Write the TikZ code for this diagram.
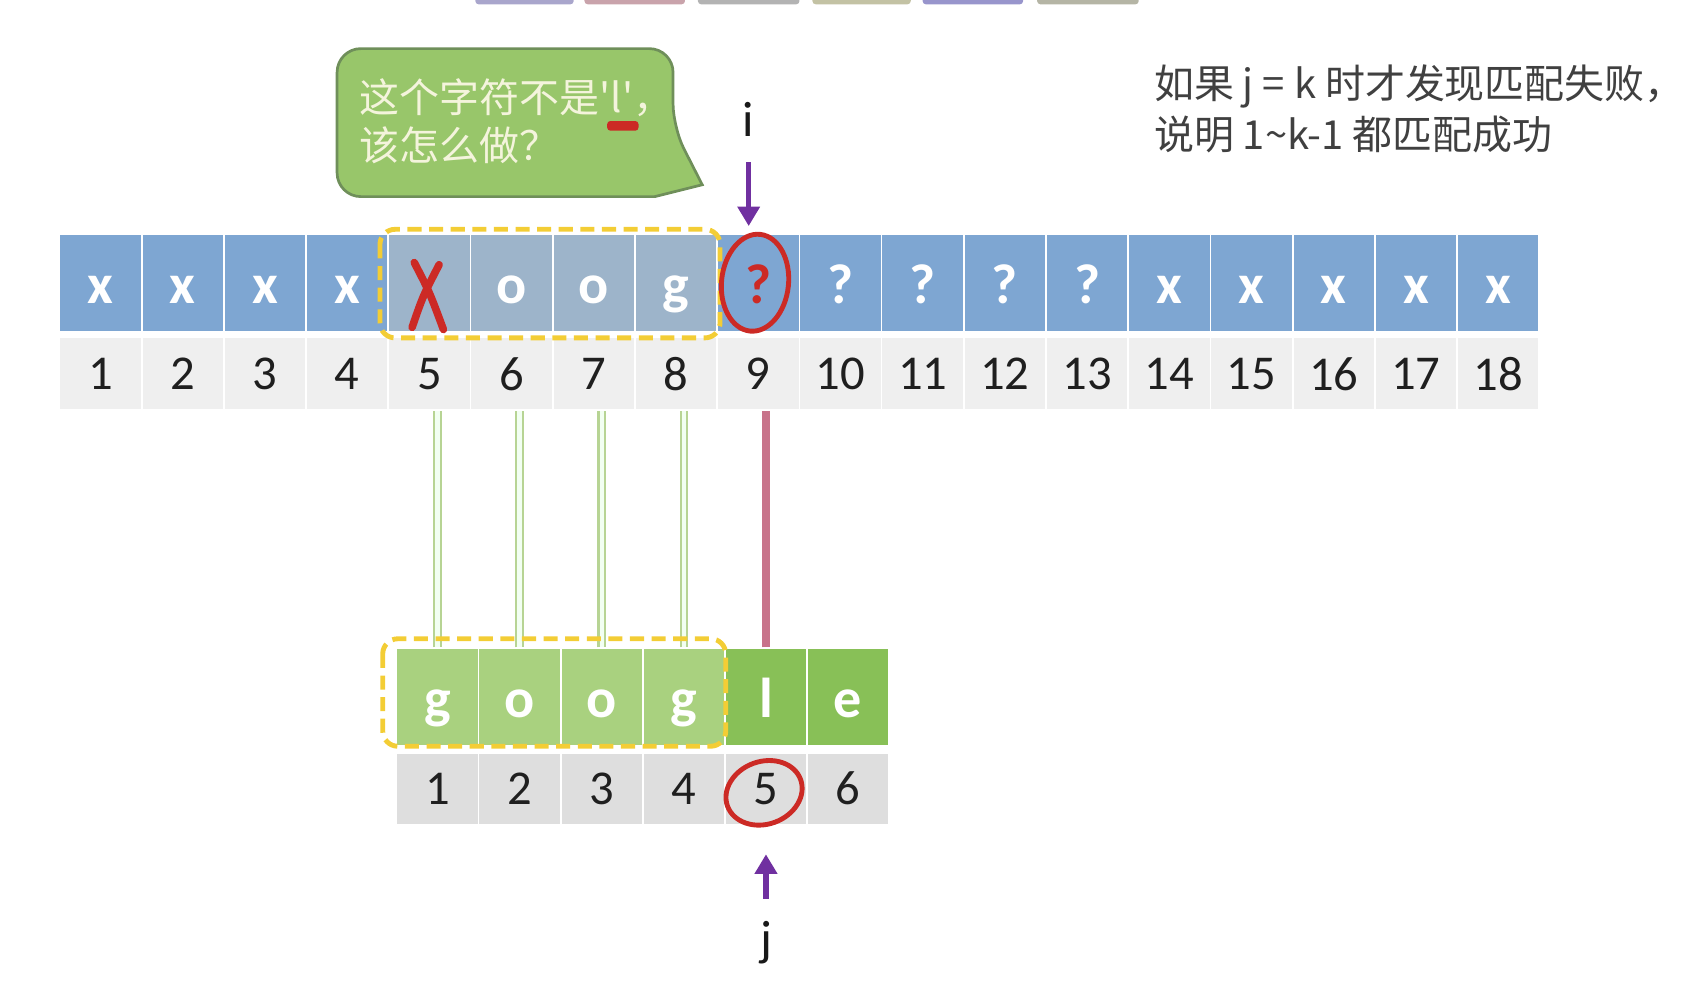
\documentclass[tikz,border=0pt]{standalone}
\usepackage{fontspec}
\setmainfont{Carlito}
\newfontfamily\cjk{Noto Sans CJK SC}
\usetikzlibrary{positioning, arrows.meta}

\definecolor{cellblue}{HTML}{7EA6D2}
\definecolor{cellgrey}{HTML}{9DB4CA}
\definecolor{idxtop}{HTML}{EFEFEF}
\definecolor{idxbot}{HTML}{DEDEDE}
\definecolor{patlight}{HTML}{A9D17F}
\definecolor{patdark}{HTML}{88C057}
\definecolor{dashyellow}{HTML}{F3CD35}
\definecolor{ptrpurple}{HTML}{7030A0}
\definecolor{markred}{HTML}{CC2A25}
\definecolor{failpink}{HTML}{C8738A}
\definecolor{okgreen}{HTML}{B7D494}
\definecolor{bubblefill}{HTML}{98C66A}
\definecolor{bubbleline}{HTML}{6F8F5A}
\definecolor{bubbletext}{HTML}{F4F4DC}
\definecolor{notegrey}{HTML}{404040}

\tikzset{
  cell/.style={draw=white, line width=1.5pt, minimum width=76pt, minimum height=90pt,
    inner sep=0pt, text height=38pt, text depth=0pt, text=white,
    font=\fontsize{52}{60}\selectfont\bfseries},
  idx/.style={draw=white, line width=1.5pt, minimum width=76pt, minimum height=67pt,
    inner sep=0pt, text=black!88, font=\fontsize{45}{54}\selectfont},
  hilite/.style={draw=dashyellow, line width=4.5pt, dash pattern=on 13pt off 7pt, rounded corners=14pt},
  okline/.style={draw=okgreen, line width=2pt, double=green!5!white, double distance=4pt},
  failline/.style={draw=failpink, line width=8pt},
  ptr/.style={->, draw=ptrpurple, line width=5pt},
  ring/.style={draw=markred, line width=4.5pt},
  scrawl/.style={draw=markred, line width=7pt, line cap=round},
  lbl/.style={inner sep=0pt, text=black!90, font=\fontsize{46}{54}\selectfont},
  bubble/.style={fill=bubblefill, draw=bubbleline, line width=2.5pt}
}

\begin{document}
\begin{tikzpicture}[x=1pt, y=-1pt, >={Triangle[length=18pt,width=20pt]}]
  \useasboundingbox (0,0) rectangle (1568,913);

  % bars cut off at the top edge
  \foreach \l/\r/\c in {440/531/A9A6CC, 541/634/C9A3AB, 646/740/B3B3B3,
                        752/843/C3C2A4, 854/947/9895CC, 960/1054/B5B5A5}
    {\definecolor{barcol}{HTML}{\c}
     \fill[barcol, rounded corners=3pt] (\l,-10) rectangle (\r,4);}

  % main string
  \foreach \c/\f [count=\k] in {x/cellblue, x/cellblue, x/cellblue, x/cellblue, {}/cellgrey,
      o/cellgrey, o/cellgrey, g/cellgrey, {\textcolor{markred}{?}}/cellblue,
      ?/cellblue, ?/cellblue, ?/cellblue, ?/cellblue,
      x/cellblue, x/cellblue, x/cellblue, x/cellblue, x/cellblue}
    \node[cell, fill=\f] (t\k) at ({93.05+76.1*(\k-1)}, 262) {\c};
  \foreach \k in {1,...,18}
    \node[idx, fill=idxtop] (n\k) at ({93.05+76.1*(\k-1)}, 346) {\k};

  % pattern
  \foreach \c/\f [count=\k] in {g/patlight, o/patlight, o/patlight, g/patlight, l/patdark, e/patdark}
    \node[cell, fill=\f] (p\k) at ({405+76*(\k-1)}, 645) {\c};
  \foreach \k in {1,...,6}
    \node[idx, fill=idxbot, minimum height=66pt] (q\k) at ({405+76*(\k-1)}, 730) {\k};

  % matched / failed links
  \foreach \k in {1,...,4}
    \draw[okline] (p\k.north) -- (p\k.north |- n1.south);
  \draw[failline] (p5.north) -- (p5.north |- n9.south);

  \draw[hilite] ([xshift=-7pt, yshift=4pt]t5.north west) rectangle ([xshift=2pt, yshift=-5pt]t8.south east);
  \draw[hilite] ([xshift=-12pt, yshift=8pt]p1.north west) rectangle (p4.south east);

  % pointers
  \node[lbl, anchor=south] (ilbl) at (693,127) {i};
  \draw[ptr, shorten <=23pt, shorten >=7pt] (ilbl.south) -- (ilbl.south |- t9.north);
  \node[lbl, anchor=north] (jlbl) at (709,853) {j};
  \draw[ptr, shorten <=21pt, shorten >=27pt] (jlbl.north) -- (jlbl.north |- q5.south);

  % hand marks
  \draw[ring, rotate around={-6:(t9.center)}] ([xshift=-3pt]t9.center) ellipse [x radius=31pt, y radius=45pt];
  \draw[ring, rotate around={20:(q5.center)}] ([xshift=-3pt, yshift=-3pt]q5.center) ellipse [x radius=36pt, y radius=29pt];
  \draw[scrawl] ([shift={(-14pt,19pt)}]t5.center) .. controls ([shift={(0pt,-8pt)}]t5.center) .. ([shift={(13pt,-43pt)}]t5.center);
  \draw[scrawl] ([shift={(9pt,17pt)}]t5.center) .. controls ([shift={(-6pt,-12pt)}]t5.center) .. ([shift={(-16pt,-41pt)}]t5.center);

  % speech bubble
  \draw[bubble] (312,110) [rounded corners=22pt] -- (312,45) -- (623,45) -- (623,118)
    [sharp corners] -- (650,171) -- (606,182) [rounded corners=22pt] -- (312,182) -- cycle;
  \node[anchor=west, align=left, inner sep=0pt, text=bubbletext,
        font=\cjk\fontsize{37}{44}\selectfont] (ask) at (333,112)
    {这个字符不是'l'，\\该怎么做？};
  \fill[markred, rounded corners=3pt] (562,112) rectangle (591,121);

  % note
  \node[anchor=west, align=left, inner sep=0pt, text=notegrey,
        font=\cjk\fontsize{37}{47}\selectfont] (note) at (1068,101)
    {如果 j = k 时才发现匹配失败，\\说明 1\textasciitilde k-1 都匹配成功};
\end{tikzpicture}
\end{document}
